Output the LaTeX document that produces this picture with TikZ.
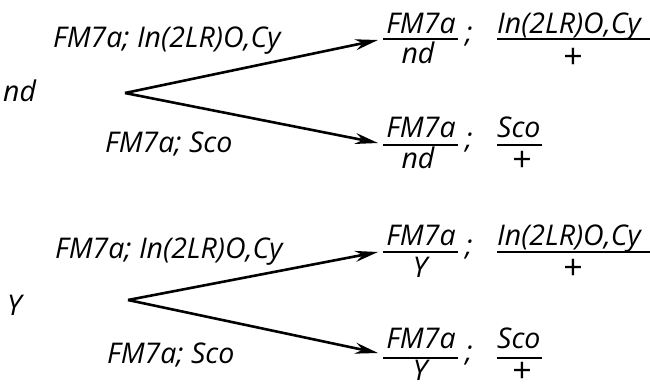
\documentclass[tikz,border=0pt]{standalone}
\usepackage{fontspec}
\setmainfont{Open Sans}
\usetikzlibrary{arrows.meta}
\begin{document}
\begin{tikzpicture}[x=1pt,y=-1pt,
  lbl/.style={inner sep=0pt,font=\itshape\fontsize{28.5}{32}\selectfont},
  plus/.style={inner sep=0pt,font=\fontsize{34}{38}\selectfont},
  branch/.style={line width=2.6pt,-{Stealth[length=23pt,width=11pt]}},
  bar/.style={line width=1.6pt}]
\useasboundingbox (0,0) rectangle (650,389);

% ---------- cross with nd ----------
\node[lbl,anchor=base west] (pA) at (3,101) {nd};
\coordinate (brA) at (125,93);
\node[lbl,anchor=base west] (tA) at (53,47) {FM7a; In(2LR)O,Cy};
\node[lbl,anchor=base west] (sA) at (105,152) {FM7a; Sco};
\coordinate (eA1) at (378,40);
\coordinate (eA2) at (378,143);
\draw[branch] (brA) -- (eA1);
\draw[branch] (brA) -- (eA2);

% progeny 1
\node[lbl,anchor=base] (nA1) at (421,33) {FM7a};
\draw[bar] (383,39) -- (458,39);
\node[lbl,anchor=base] (dA1) at (418,63) {nd};
\node[lbl,anchor=base] (cA1) at (469,42) {;};
\node[lbl,anchor=base west] (rA1) at (497,33) {In(2LR)O,Cy};
\draw[bar] (497,39) -- (650,39);
\node[plus] (qA1) at (573,58) {+};

% progeny 2
\node[lbl,anchor=base] (nA2) at (421,137) {FM7a};
\draw[bar] (383,145) -- (458,145);
\node[lbl,anchor=base] (dA2) at (418,168) {nd};
\node[lbl,anchor=base] (cA2) at (469,148) {;};
\node[lbl,anchor=base west] (rA2) at (497,137) {Sco};
\draw[bar] (497,145) -- (542,145);
\node[plus] (qA2) at (522,161) {+};

% ---------- cross with Y ----------
\node[lbl,anchor=base west] (pB) at (7,315) {Y};
\coordinate (brB) at (128,300);
\node[lbl,anchor=base west] (tB) at (55,258) {FM7a; In(2LR)O,Cy};
\node[lbl,anchor=base west] (sB) at (107,363) {FM7a; Sco};
\coordinate (eB1) at (378,252);
\coordinate (eB2) at (378,353);
\draw[branch] (brB) -- (eB1);
\draw[branch] (brB) -- (eB2);

% progeny 1
\node[lbl,anchor=base] (nB1) at (421,245) {FM7a};
\draw[bar] (383,252) -- (458,252);
\node[lbl,anchor=base] (dB1) at (420,277) {Y};
\node[lbl,anchor=base] (cB1) at (469,255) {;};
\node[lbl,anchor=base west] (rB1) at (497,245) {In(2LR)O,Cy};
\draw[bar] (497,252) -- (650,252);
\node[plus] (qB1) at (573,269) {+};

% progeny 2
\node[lbl,anchor=base] (nB2) at (421,348) {FM7a};
\draw[bar] (383,358) -- (458,358);
\node[lbl,anchor=base] (dB2) at (420,380) {Y};
\node[lbl,anchor=base] (cB2) at (469,361) {;};
\node[lbl,anchor=base west] (rB2) at (497,348) {Sco};
\draw[bar] (497,358) -- (542,358);
\node[plus] (qB2) at (522,372) {+};
\end{tikzpicture}
\end{document}
